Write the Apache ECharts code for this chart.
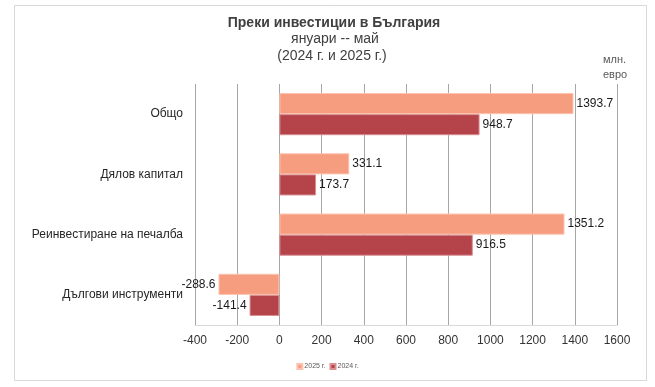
<!DOCTYPE html>
<html><head><meta charset="utf-8">
<script src="https://cdn.jsdelivr.net/npm/echarts@6/dist/echarts.min.js"></script>
<style>html,body{margin:0;padding:0;background:#fff}#c{width:655px;height:387px}</style>
</head><body><div id="c"></div>
<script>
const categories = ['Общо', 'Дялов капитал', 'Реинвестиране на печалба', 'Дългови инструменти'];
const values2025 = [1393.7, 331.1, 1351.2, -288.6];
const values2024 = [948.7, 173.7, 916.5, -141.4];
const seriesNames = ['2025 г.', '2024 г.'];
const xTicks = { min: -400, max: 1600, interval: 200 };

const FONT = "'Liberation Sans',Arial,sans-serif";
const chart = echarts.init(document.getElementById('c'), null, { renderer: 'canvas' });

function lbl(v) { return v.toFixed(1); }

chart.setOption({
  animation: false,
  backgroundColor: '#fff',
  graphic: [
    { type: 'rect', shape: { x: 14.5, y: 5.5, width: 632, height: 375 }, style: { fill: 'none', stroke: '#D9D9D9', lineWidth: 1 }, silent: true },
    { type: 'text', x: 334, y: 16, style: { text: 'Преки инвестиции в България', font: "bold 14px " + FONT, fill: '#404040', align: 'center' } },
    { type: 'text', x: 335, y: 32, style: { text: 'януари -- май', font: "14px " + FONT, fill: '#404040', align: 'center' } },
    { type: 'text', x: 332, y: 49, style: { text: '(2024 г. и 2025 г.)', font: "14px " + FONT, fill: '#404040', align: 'center' } },
    { type: 'text', x: 603, y: 52, style: { text: 'млн.\nевро', font: "11px " + FONT, fill: '#595959', lineHeight: 15 } }
  ],
  legend: {
    bottom: 12, left: 'center', itemWidth: 5, itemHeight: 5, itemGap: 4,
    icon: 'rect',
    textStyle: { fontSize: 7, color: '#595959', fontFamily: FONT, padding: [0, 0, 0, -3] },
    data: seriesNames
  },
  grid: { left: 195, right: 38, top: 84, bottom: 62, containLabel: false },
  xAxis: {
    type: 'value', min: xTicks.min, max: xTicks.max, interval: xTicks.interval,
    axisLine: { show: true, lineStyle: { color: '#D9D9D9' } },
    axisTick: { show: false },
    splitLine: { show: true, lineStyle: { color: '#A6A6A6', width: 1 } },
    axisLabel: { color: '#333', fontSize: 12, fontFamily: FONT, margin: 10, formatter: v => String(v) }
  },
  yAxis: {
    type: 'category', data: categories, inverse: true,
    axisLine: { show: false }, axisTick: { show: false },
    axisLabel: { color: '#262626', fontSize: 12, fontFamily: FONT, margin: 12 }
  },
  series: [
    {
      name: seriesNames[0], type: 'bar', barGap: '0%', barCategoryGap: '30%',
      data: values2025.map(v => v < 0 ? { value: v, label: { position: 'left' } } : v),
      itemStyle: { color: '#F79D7F', borderColor: '#FBC3AE', borderWidth: 1 },
      label: { show: true, position: 'right', formatter: p => lbl(p.value), color: '#1a1a1a', fontSize: 12, fontFamily: FONT, distance: 3 }
    },
    {
      name: seriesNames[1], type: 'bar', barGap: '0%', barCategoryGap: '30%',
      data: values2024.map(v => v < 0 ? { value: v, label: { position: 'left' } } : v),
      itemStyle: { color: '#B5434A', borderColor: '#D98E92', borderWidth: 1 },
      label: { show: true, position: 'right', formatter: p => lbl(p.value), color: '#1a1a1a', fontSize: 12, fontFamily: FONT, distance: 3 }
    }
  ]
});
</script></body></html>
